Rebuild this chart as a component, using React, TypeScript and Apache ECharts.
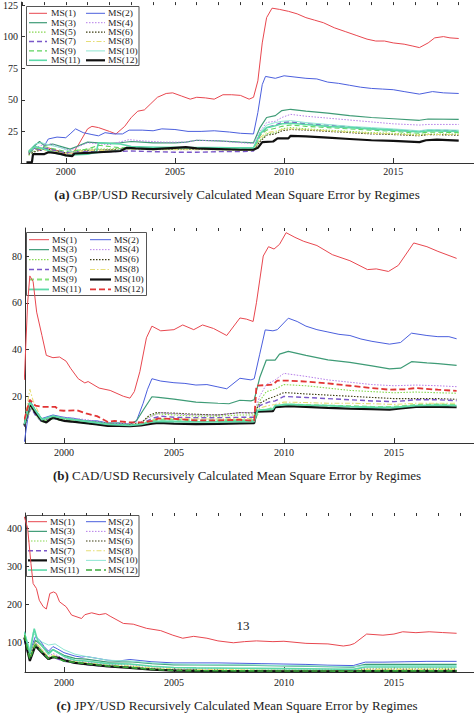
import React, { useEffect, useRef } from 'react';
import * as echarts from 'echarts';

// ---------- tick labels ----------
const YEAR_LABELS = [2000, 2005, 2010, 2015];
const MINOR_YEARS_A = [1998, 1999, 2000, 2001, 2002, 2003, 2004, 2005, 2006, 2007, 2008, 2009, 2010, 2011, 2012, 2013, 2014, 2015, 2016, 2017, 2018];
const MINOR_YEARS_BC = [1999, 2000, 2001, 2002, 2003, 2004, 2005, 2006, 2007, 2008, 2009, 2010, 2011, 2012, 2013, 2014, 2015, 2016, 2017, 2018];
const Y_TICKS_A = [25, 50, 75, 100, 125];
const Y_TICKS_B = [20, 40, 60, 80];
const Y_TICKS_C = [100, 200, 300, 400];

const NAMES = ['MS(1)', 'MS(2)', 'MS(3)', 'MS(4)', 'MS(5)', 'MS(6)', 'MS(7)', 'MS(8)', 'MS(9)', 'MS(10)', 'MS(11)', 'MS(12)'];

const TITLE_A = 'GBP/USD Recursively Calculated Mean Square Error by Regimes';
const TITLE_B = 'CAD/USD Recursively Calculated Mean Square Error by Regimes';
const TITLE_C = 'JPY/USD Recursively Calculated Mean Square Error by Regimes';
const PAGE_NO = '13';

// ---------- panel (a) GBP/USD : [year, MSE] ----------
const A1 = [[1998.3,9],[1998.5,12],[1998.8,10],[1999.2,12],[1999.6,10],[2000.0,7],[2000.3,7],[2000.6,15],[2001.0,27],[2001.2,29],[2001.5,28],[2002.0,25],[2002.3,23],[2002.7,29],[2003.0,36],[2003.3,41],[2003.6,42],[2003.9,47],[2004.2,52],[2004.6,55],[2004.9,55.5],[2005.3,53],[2005.7,50.5],[2006.0,52],[2006.4,51.5],[2006.8,50.5],[2007.2,54],[2007.6,54],[2008.0,53.5],[2008.4,50.5],[2008.6,52],[2008.8,65],[2009.0,95],[2009.2,115],[2009.45,122.5],[2009.8,121.5],[2010.2,120],[2010.6,118],[2011.0,115],[2011.4,113],[2011.8,111],[2012.3,107],[2012.8,104],[2013.3,101],[2013.8,98],[2014.2,96.5],[2014.6,96.5],[2015.0,95],[2015.5,94],[2015.9,92.5],[2016.2,91.3],[2016.6,95],[2016.9,99],[2017.3,100],[2017.6,99],[2018.0,98.5]];
const A2 = [[1998.3,8],[1998.6,12],[1998.9,10],[1999.2,19],[1999.6,20.5],[2000.0,20],[2000.2,23],[2000.45,27],[2000.8,24],[2001.2,22.5],[2001.5,21.5],[2001.8,24],[2002.2,23],[2002.6,23],[2002.9,26],[2003.5,26],[2004.0,25.5],[2004.4,27],[2005.0,26.5],[2005.6,25],[2006.2,25],[2006.8,25.5],[2007.5,24.5],[2008.0,23.5],[2008.6,23],[2008.8,40],[2009.0,62],[2009.15,68.5],[2009.6,67],[2010.0,69],[2010.5,68],[2011.0,67],[2011.5,66.5],[2012.0,64],[2012.5,63],[2013.0,61.5],[2013.5,60],[2014.0,59],[2014.5,58.5],[2015.0,58],[2015.5,56.5],[2016.2,54.5],[2016.8,56.5],[2017.3,55.5],[2018.0,55]];
const A3 = [[1998.3,9],[1998.6,14],[1998.8,17],[1999.0,14],[1999.4,15],[1999.8,13],[2000.2,11],[2000.5,13],[2001.0,16.5],[2001.5,16],[2002.0,15.5],[2002.5,16],[2003.0,17],[2003.5,16.5],[2004.0,16],[2005.0,16],[2005.5,16.5],[2006.0,18],[2007.0,17.5],[2008.0,16.5],[2008.6,16],[2008.9,28],[2009.2,36],[2009.6,37.5],[2009.9,41.5],[2010.3,42.5],[2011.0,41],[2012.0,39.5],[2013.0,37.5],[2014.0,36],[2015.0,35],[2016.2,33.8],[2016.6,34.8],[2018.0,34.5]];
const A4 = [[1998.3,7],[1998.6,12],[1998.9,14],[1999.3,15],[1999.8,12],[2000.2,10],[2000.6,13],[2001.0,16],[2002.0,14.5],[2002.9,18.5],[2003.5,17.5],[2004.5,16.5],[2005.5,16.5],[2006.0,18],[2007.0,17.5],[2008.0,16],[2008.6,15.5],[2008.9,25],[2009.2,32],[2009.6,33],[2009.9,36],[2010.3,38.5],[2011.0,37],[2012.0,35.5],[2013.0,34],[2014.0,32.5],[2015.0,31],[2016.2,30],[2016.6,30.5],[2018.0,30.5]];
const A5 = [[1998.3,6],[1998.6,10],[1998.9,12],[1999.3,10],[2000.0,8],[2000.5,10],[2001.0,11],[2002.0,11],[2003.0,12],[2004.0,11.5],[2005.0,11],[2006.0,11.5],[2007.0,11],[2008.0,10.5],[2008.6,10.5],[2008.9,18],[2009.2,23],[2009.6,24],[2009.9,27],[2010.3,28],[2011.0,27],[2012.0,26],[2013.0,25],[2014.0,24],[2015.0,23.5],[2016.2,22.5],[2016.6,23],[2018.0,23]];
const A6 = [[1998.3,7],[1998.6,9],[1999.0,11],[1999.5,10],[2000.0,8],[2000.5,9],[2001.0,10],[2002.0,10.5],[2003.0,11.5],[2004.0,11],[2005.0,11],[2006.0,11],[2007.0,11],[2008.0,10.5],[2008.6,10],[2008.9,17],[2009.2,22],[2009.6,23],[2009.9,25.5],[2010.3,26.5],[2011.0,26],[2012.0,25],[2013.0,24],[2014.0,23],[2015.0,22.5],[2016.2,21.5],[2016.6,22.5],[2018.0,22]];
const A7 = [[1998.3,8],[1998.6,11],[1999.0,12],[1999.5,10],[2000.0,8],[2000.5,9],[2001.0,9],[2002.0,9],[2003.0,9.5],[2004.0,9],[2005.0,8.5],[2006.0,8.5],[2007.0,9],[2008.0,9],[2008.6,9.5],[2008.9,22],[2009.2,28],[2009.6,30],[2009.9,32],[2010.3,32.5],[2011.0,31],[2012.0,30],[2013.0,28.5],[2014.0,27],[2015.0,26],[2016.2,25],[2016.6,26],[2018.0,25.5]];
const A8 = [[1998.3,10],[1998.6,13],[1999.0,10],[1999.5,9],[2000.0,7],[2000.5,9],[2001.0,10],[2002.0,10],[2003.0,11],[2004.0,10.5],[2005.0,10.5],[2006.0,10.5],[2007.0,10.5],[2008.0,10],[2008.6,10],[2008.9,20],[2009.2,24],[2009.6,25],[2009.9,26.5],[2010.3,27],[2011.0,26.5],[2012.0,25.5],[2013.0,24.5],[2014.0,23.5],[2015.0,23],[2016.2,22],[2016.6,22.5],[2018.0,22.5]];
const A9 = [[1998.3,8],[1998.6,11],[1999.0,13],[1999.5,11],[2000.0,9],[2000.5,10],[2001.0,11],[2001.5,14],[2002.0,13],[2002.5,12],[2003.0,12.5],[2004.0,12],[2005.0,12],[2006.0,12],[2007.0,11.5],[2008.0,11],[2008.6,11],[2008.9,22],[2009.2,26],[2009.6,27.5],[2009.9,29],[2010.3,30],[2011.0,29],[2012.0,28],[2013.0,27],[2014.0,26],[2015.0,25],[2016.2,23.5],[2016.6,24.5],[2018.0,24]];
const A10 = [[1998.3,10],[1998.6,15],[1998.9,16],[1999.3,14],[1999.8,12],[2000.2,9],[2000.6,8],[2001.0,7],[2001.5,8],[2002.0,9],[2003.0,12],[2004.0,12.5],[2005.0,12],[2006.0,12.5],[2007.0,12.5],[2008.0,12],[2008.6,12],[2008.9,24],[2009.2,30],[2009.6,32],[2009.9,33],[2010.3,33.5],[2011.0,32],[2012.0,30.5],[2013.0,29],[2014.0,28],[2015.0,27],[2016.2,25.5],[2016.6,26.5],[2018.0,26]];
const A11 = [[1998.3,9],[1998.6,13],[1999.0,11],[1999.5,8],[2000.0,6],[2000.5,6.5],[2001.0,7],[2001.4,9],[2001.5,16],[2002.0,15.5],[2002.5,15],[2003.0,13],[2004.0,12.5],[2005.0,12.5],[2006.0,12],[2007.0,12],[2008.0,12],[2008.6,12],[2008.9,23],[2009.2,28],[2009.6,29.5],[2009.9,31],[2010.3,31.5],[2011.0,30.5],[2012.0,29],[2013.0,28],[2014.0,27],[2015.0,26],[2016.2,24.5],[2016.6,25.5],[2018.0,25]];
const A12 = [[1998.2,0.5],[1998.45,0.5],[1998.5,7],[1999.0,7],[1999.2,8.5],[1999.5,8],[1999.8,7],[2000.0,6],[2000.3,5.5],[2000.4,7.5],[2001.0,8],[2001.5,8.5],[2002.0,9],[2002.5,9.5],[2002.8,12],[2003.2,11.5],[2004.0,11],[2005.0,12],[2005.5,12.5],[2006.0,11.5],[2007.0,11],[2008.0,10.5],[2008.6,10.5],[2008.8,12],[2009.0,16.5],[2009.5,17],[2009.7,19.5],[2010.2,19.5],[2010.3,21.5],[2011.0,21],[2012.0,20],[2013.0,19],[2014.0,18],[2015.0,17.5],[2016.2,16.5],[2016.5,18],[2017.0,18.5],[2018.0,17.7]];

// ---------- panel (b) CAD/USD ----------
const B1 = [[1998.2,27],[1998.35,60],[1998.45,71.5],[1998.6,69],[1998.76,56],[1999.0,46],[1999.2,37.5],[1999.5,36.5],[1999.8,36.8],[2000.1,35],[2000.3,32],[2000.65,27.5],[2000.95,25.7],[2001.1,26.3],[2001.6,23.5],[2002.1,22.5],[2002.7,20],[2003.0,19.2],[2003.2,22],[2003.45,30.5],[2003.75,45],[2004.0,50],[2004.4,48],[2005.0,48.5],[2005.4,50.5],[2005.9,48.5],[2006.3,50.5],[2006.8,49],[2007.4,46],[2008.0,53.5],[2008.3,53],[2008.6,52],[2008.75,60],[2009.06,80],[2009.3,84],[2009.55,83],[2009.8,85],[2010.1,90],[2010.5,88],[2010.9,86.3],[2011.5,84.5],[2012.2,80.6],[2013.0,78],[2013.8,74.2],[2014.2,74.5],[2014.75,73.4],[2015.2,76],[2015.9,85.6],[2016.5,84],[2017.0,82],[2017.85,79]];
const B2 = [[1998.2,0.5],[1998.35,10],[1998.5,17.5],[1998.7,14],[1999.0,10.5],[1999.5,12],[2000.0,11],[2000.5,10.5],[2001.0,9.5],[2001.5,9.5],[2002.0,8.5],[2002.5,8.5],[2003.0,8],[2003.3,9.5],[2003.6,17],[2003.8,23],[2004.0,27.5],[2004.4,26.5],[2005.0,25.8],[2005.5,25.5],[2006.0,24.8],[2006.5,25],[2007.0,24],[2007.4,23.2],[2008.0,27.7],[2008.5,27],[2008.65,27.5],[2008.9,38],[2009.15,48.4],[2009.5,48],[2009.7,48.5],[2010.2,53.4],[2010.6,52],[2011.0,50],[2011.5,48.5],[2012.0,47.5],[2012.5,46.5],[2013.0,46],[2013.5,44.5],[2014.0,43.5],[2014.8,42.3],[2015.3,43],[2015.8,47],[2016.5,46],[2017.0,45.5],[2017.5,45.5],[2017.85,44.6]];
const B3 = [[1998.2,8],[1998.5,17],[1998.7,14],[1999.0,10],[1999.5,11.5],[2000.0,10.5],[2000.5,10],[2001.0,9.5],[2001.5,9],[2002.0,8.5],[2002.5,8.5],[2003.0,8],[2003.3,9.5],[2003.6,14],[2004.0,19.8],[2004.3,19.5],[2005.0,18.8],[2006.0,17.5],[2007.0,17],[2007.5,16.8],[2008.0,18.3],[2008.5,18],[2008.65,18.5],[2008.9,28],[2009.2,35.5],[2009.6,35.5],[2009.8,38],[2010.2,39.2],[2011.0,37.5],[2012.0,35.6],[2013.0,34.5],[2014.0,33],[2014.8,31.7],[2015.3,32],[2015.8,34.8],[2016.5,34.3],[2017.0,34],[2017.85,33.2]];
const B4 = [[1998.2,8],[1998.5,16],[1998.7,13],[1999.0,10],[1999.5,11.5],[2000.0,11],[2000.5,10.5],[2001.0,10],[2002.0,8.5],[2003.0,8.3],[2003.5,9],[2004.0,11.5],[2004.4,13],[2005.0,12.5],[2006.0,12],[2007.0,12],[2008.0,13],[2008.65,13],[2008.9,20],[2009.2,25],[2009.6,27],[2010.0,29.8],[2011.0,28.5],[2012.0,27],[2013.0,26],[2014.0,25],[2015.0,24.5],[2016.0,24.8],[2017.0,24.5],[2017.85,24.1]];
const B5 = [[1998.2,7],[1998.5,15],[1998.7,12],[1999.0,9],[1999.5,11],[2000.0,10],[2001.0,9],[2002.0,8],[2003.0,7.8],[2003.5,8.5],[2003.8,11],[2004.2,12.5],[2005.0,12],[2006.0,11.5],[2007.0,11.5],[2008.0,12],[2008.65,12],[2008.9,18],[2009.2,22],[2009.6,23],[2010.0,25],[2011.0,24.5],[2012.0,23.5],[2013.0,22.5],[2014.0,22],[2015.0,21.5],[2016.0,21.8],[2017.0,21.5],[2017.85,21.3]];
const B6 = [[1998.2,7],[1998.5,16],[1998.7,13],[1999.0,9.5],[1999.5,11],[2000.0,10],[2001.0,9],[2002.0,8],[2003.0,7.8],[2003.5,8.5],[2003.9,12],[2004.2,13],[2005.0,12.8],[2006.0,12.3],[2007.0,12],[2008.0,13],[2008.65,12.8],[2008.9,17],[2009.3,19],[2009.6,20],[2010.0,21.6],[2011.0,21],[2012.0,20.5],[2013.0,20],[2014.0,19.5],[2015.0,19],[2016.0,19],[2017.0,19],[2017.85,18.7]];
const B7 = [[1998.2,7],[1998.5,15],[1998.7,12],[1999.0,9],[1999.5,10.5],[2000.0,9.5],[2001.0,8.5],[2002.0,7.8],[2003.0,7.5],[2003.5,8],[2004.0,10.5],[2004.4,11.5],[2005.0,11],[2006.0,10.8],[2007.0,10.8],[2008.0,11],[2008.65,11],[2008.9,16],[2009.3,17.5],[2009.6,18],[2010.0,19.9],[2011.0,19.5],[2012.0,19],[2013.0,18.5],[2014.0,18],[2015.0,17.7],[2016.0,18.5],[2017.0,18.5],[2017.85,18.1]];
const B8 = [[1998.2,9],[1998.45,23],[1998.6,18],[1999.0,10],[1999.5,11],[2000.0,10],[2001.0,9],[2002.0,8],[2003.0,7.5],[2003.5,8],[2004.0,10],[2004.4,10.5],[2005.0,10.5],[2006.0,10.3],[2007.0,10.3],[2008.0,10.5],[2008.65,10.5],[2008.9,15],[2009.3,16],[2009.6,16.5],[2010.0,17.5],[2011.0,17.3],[2012.0,17],[2013.0,17],[2014.0,16.8],[2015.0,16.5],[2016.0,17],[2017.0,17],[2017.85,17]];
const B9 = [[1998.2,8],[1998.5,16],[1998.7,13],[1999.0,9],[1999.5,10.5],[2000.0,9.5],[2001.0,8.5],[2002.0,7.5],[2003.0,7.3],[2003.5,8],[2004.0,9.5],[2004.4,10],[2005.0,10],[2006.0,9.7],[2007.0,9.7],[2008.0,9.8],[2008.65,9.8],[2008.9,14],[2009.3,14.5],[2009.6,15.5],[2010.0,16.5],[2011.0,16.3],[2012.0,16],[2013.0,15.8],[2014.0,15.5],[2015.0,15.5],[2016.0,16.3],[2017.0,16.5],[2017.85,16.3]];
const B10 = [[1998.2,7.5],[1998.45,17],[1998.7,13],[1999.0,9.5],[1999.2,8.8],[1999.5,11],[1999.8,10],[2000.0,9.5],[2000.5,9],[2001.0,8.5],[2001.5,8],[2002.0,7.3],[2002.5,7.3],[2003.0,7.2],[2003.5,7.5],[2004.0,8.3],[2004.3,8.6],[2005.0,8.3],[2006.0,8.1],[2007.0,8.2],[2008.0,8.4],[2008.65,8.5],[2008.75,13.4],[2009.5,13.6],[2009.6,15.3],[2010.2,15.8],[2011.0,15.5],[2012.0,15],[2013.0,14.7],[2014.0,14.5],[2014.8,14.3],[2015.3,14.8],[2016.0,15.4],[2017.0,15.5],[2017.85,15.3]];
const B11 = [[1998.2,8],[1998.45,17.5],[1998.7,14],[1999.0,10],[1999.5,11.5],[2000.0,10.5],[2001.0,9.3],[2002.0,8],[2003.0,7.5],[2003.5,8],[2004.0,9],[2004.4,9.3],[2005.0,9.2],[2006.0,9],[2007.0,9],[2008.0,9.2],[2008.65,9.2],[2008.8,14],[2009.5,14.5],[2009.6,16],[2010.2,16.5],[2011.0,16.2],[2012.0,16],[2013.0,15.6],[2014.0,15.3],[2015.0,15.2],[2016.0,16],[2017.0,16.2],[2017.85,16]];
const B12 = [[1998.2,10],[1998.45,18.5],[1998.7,16],[1999.0,15.5],[1999.6,15.5],[1999.8,14],[2000.0,13.8],[2000.6,14],[2001.0,12.7],[2001.5,11.5],[2002.0,9],[2002.3,9.5],[2003.0,8.8],[2003.6,8.8],[2004.0,9.5],[2004.3,10.5],[2005.0,10.3],[2006.0,9.7],[2007.0,9.7],[2008.0,9.9],[2008.65,9.5],[2008.75,24.5],[2009.5,25],[2009.7,26.7],[2010.2,26.7],[2011.0,26.3],[2012.0,25.5],[2013.0,24.5],[2014.0,23.5],[2014.8,22.8],[2015.5,23],[2016.0,23.5],[2017.0,22.8],[2017.85,22.3]];

// ---------- panel (c) JPY/USD ----------
const C1 = [[1998.2,430],[1998.35,400],[1998.5,307],[1998.6,254],[1998.75,241],[1998.88,210],[1999.06,193],[1999.2,187],[1999.36,228],[1999.53,232],[1999.65,228],[1999.8,206],[2000.1,193],[2000.35,171],[2000.8,162],[2000.95,172],[2001.26,177],[2001.6,172],[2001.9,175],[2002.1,168],[2002.7,149],[2003.15,147],[2003.76,136],[2004.4,130],[2004.95,118],[2005.4,110],[2005.9,115],[2006.5,110],[2007.0,103],[2007.7,98],[2008.2,101],[2008.75,103],[2009.5,101],[2010.0,102],[2011.0,96.5],[2012.0,95],[2012.7,89.5],[2013.0,92],[2013.2,96],[2013.76,121],[2014.5,118],[2015.0,121],[2015.4,127],[2016.0,124.6],[2016.6,127],[2017.2,125],[2017.85,123]];
const C2 = [[1998.2,123],[1998.45,75],[1998.7,114],[1998.9,105],[1999.1,88],[1999.3,76],[1999.5,88],[1999.7,82],[2000.0,72],[2000.5,63],[2000.8,60],[2001.0,62],[2001.5,57],[2002.0,52],[2002.5,50],[2003.0,54],[2003.5,51],[2004.0,48],[2005.0,45],[2006.0,45],[2007.0,45],[2008.0,44],[2009.0,43],[2010.0,42],[2011.0,41],[2012.0,39],[2013.15,38],[2013.7,47],[2014.5,47],[2015.5,48],[2016.5,49],[2017.85,49]];
const C3 = [[1998.2,110],[1998.45,65],[1998.7,105],[1999.0,90],[1999.3,72],[1999.5,80],[2000.0,65],[2000.5,57],[2001.0,55],[2002.0,47],[2003.0,48],[2004.0,43],[2005.0,40],[2006.0,40],[2008.0,39],[2010.0,37],[2012.0,35],[2013.15,34],[2013.7,41],[2015.0,41],[2017.85,41]];
const C4 = [[1998.2,115],[1998.45,60],[1998.7,100],[1999.0,80],[1999.3,62],[1999.5,70],[2000.0,56],[2001.0,47],[2002.0,41],[2003.0,40],[2004.0,35],[2005.0,32],[2006.0,31],[2008.0,30],[2010.0,29],[2012.0,28],[2013.15,27],[2013.7,31],[2017.85,32]];
const C5 = [[1998.2,120],[1998.45,58],[1998.7,98],[1999.0,78],[1999.3,58],[1999.5,65],[2000.0,52],[2001.0,44],[2002.0,38],[2003.0,36],[2004.0,31],[2005.0,28],[2006.0,27],[2008.0,26],[2010.0,25],[2012.0,25],[2013.15,24],[2013.7,29],[2017.85,30]];
const C6 = [[1998.2,110],[1998.45,55],[1998.7,95],[1999.0,75],[1999.3,55],[1999.5,62],[2000.0,50],[2001.0,42],[2002.0,36],[2003.0,34],[2004.0,29],[2005.0,27],[2006.0,26],[2008.0,25],[2010.0,24],[2012.0,24],[2013.15,23],[2013.7,26],[2017.85,27]];
const C7 = [[1998.2,105],[1998.45,52],[1998.7,92],[1999.0,72],[1999.3,54],[1999.5,60],[2000.0,49],[2001.0,41],[2002.0,35],[2003.0,33],[2004.0,28],[2005.0,26],[2006.0,25],[2008.0,24.5],[2010.0,24],[2012.0,23.5],[2013.15,23],[2013.7,25],[2017.85,25]];
const C8 = [[1998.2,118],[1998.45,60],[1998.7,100],[1999.0,80],[1999.3,60],[1999.5,66],[2000.0,53],[2001.0,45],[2002.0,39],[2003.0,37],[2004.0,32],[2005.0,29],[2006.0,28],[2008.0,27],[2010.0,26],[2012.0,26],[2013.15,25],[2013.7,28],[2017.85,28]];
const C9 = [[1998.2,112],[1998.45,50],[1998.7,90],[1999.0,72],[1999.3,55],[1999.5,60],[1999.8,58],[2000.0,52],[2000.5,45],[2001.0,42],[2002.0,36],[2003.0,32],[2004.0,27],[2005.0,24.5],[2006.0,24],[2008.0,23.5],[2010.0,23],[2012.0,23],[2013.15,22.5],[2013.7,23.5],[2017.85,23.5]];
const C10 = [[1998.2,128],[1998.45,80],[1998.6,125],[1998.8,110],[1999.0,100],[1999.3,92],[1999.6,95],[2000.0,80],[2000.5,68],[2001.0,62],[2002.0,52],[2003.0,50],[2004.0,45],[2005.0,42],[2006.0,41],[2008.0,40],[2010.0,38],[2012.0,36],[2013.15,35],[2013.7,38],[2017.85,38]];
const C11 = [[1998.2,125],[1998.45,70],[1998.65,135],[1998.8,105],[1999.0,90],[1999.3,68],[1999.5,80],[2000.0,62],[2000.5,52],[2001.0,50],[2002.0,43],[2003.0,42],[2004.0,36],[2005.0,33],[2006.0,32],[2008.0,31],[2010.0,30],[2012.0,29],[2013.15,28],[2013.7,34],[2017.85,34]];
const C12 = [[1998.2,118],[1998.45,55],[1998.7,93],[1999.0,74],[1999.3,56],[1999.5,62],[2000.0,50],[2001.0,43],[2002.0,37],[2003.0,33],[2004.0,28],[2005.0,25],[2006.0,24.5],[2008.0,24],[2010.0,23.5],[2012.0,23.5],[2013.15,23],[2013.7,24],[2017.85,24]];

const DATA_A = [A1, A2, A3, A4, A5, A6, A7, A8, A9, A10, A11, A12];
const DATA_B = [B1, B2, B3, B4, B5, B6, B7, B8, B9, B10, B11, B12];
const DATA_C = [C1, C2, C3, C4, C5, C6, C7, C8, C9, C10, C11, C12];

// ---------- styles ----------
const DOT = [1.5, 1.5];
const DASH = [5, 3];
const DASHDOT = [5, 2, 1.5, 2];
const BASE = [
  { c: '#e8474f', w: 1, t: 'solid' },
  { c: '#4b5fdd', w: 1, t: 'solid' },
  { c: '#3e9b76', w: 1.2, t: 'solid' },
  { c: '#b57de8', w: 1, t: DOT },
  { c: '#86d850', w: 1.1, t: DOT },
  { c: '#3d3d12', w: 1.1, t: DOT },
  { c: '#7a57c9', w: 1.4, t: DASH },
  { c: '#e6de78', w: 1.1, t: DASHDOT },
];
const STY_A = [...BASE,
  { c: '#5fd35f', w: 1.1, t: DASH },
  { c: '#8fe6d2', w: 1, t: 'solid' },
  { c: '#5cd9a8', w: 1.6, t: 'solid' },
  { c: '#111111', w: 2.2, t: 'solid' },
];
const STY_B = [...BASE,
  { c: '#86e27a', w: 1.8, t: DASH },
  { c: '#111111', w: 2.2, t: 'solid' },
  { c: '#5cd9a8', w: 1.8, t: 'solid' },
  { c: '#e23535', w: 1.8, t: [6, 3] },
];
const STY_C = [...BASE,
  { c: '#111111', w: 2.2, t: 'solid' },
  { c: '#8fe6d2', w: 1, t: 'solid' },
  { c: '#5cd9a8', w: 1.6, t: 'solid' },
  { c: '#3aa83a', w: 1.6, t: [6, 3] },
];

const SERIF = 'Liberation Serif';
const INK = '#222';

function buildSeries(data: number[][][], sty: any[], tag: string, axisIdx: number) {
  return data.map((d, i) => ({
    name: NAMES[i] + ' ' + tag,
    type: 'line',
    xAxisIndex: axisIdx * 2,
    yAxisIndex: axisIdx,
    data: d,
    symbol: 'none',
    showSymbol: false,
    silent: true,
    lineStyle: { color: sty[i].c, width: sty[i].w, type: sty[i].t },
    itemStyle: { color: sty[i].c },
  }));
}

// Legend drawn as graphic: two columns, six rows, framed box.
type LegendGeom = { box: number[]; rowCenter: number; rowH: number; cols: number[][] };
function buildLegend(sty: any[], g: LegendGeom) {
  const els: any[] = [];
  els.push({ type: 'rect', silent: true, shape: { x: g.box[0], y: g.box[1], width: g.box[2], height: g.box[3] }, style: { fill: 'none', stroke: '#555', lineWidth: 1 } });
  NAMES.forEach((name, i) => {
    const col = g.cols[i % 2];
    const cy = g.rowCenter + Math.floor(i / 2) * g.rowH;
    const s = sty[i];
    els.push({
      type: 'line', silent: true,
      shape: { x1: col[0], y1: cy, x2: col[1], y2: cy },
      style: { stroke: s.c, lineWidth: s.w, lineDash: s.t === 'solid' ? null : s.t },
    });
    els.push({
      type: 'text', silent: true, x: col[2], y: cy, scaleX: 1.12,
      style: { text: name, fontFamily: SERIF, fontSize: 8.5, fill: INK, align: 'left', verticalAlign: 'middle' },
    });
  });
  return els;
}

function xAxes(grid: number, min: number, max: number, minor: number[], margin: number) {
  return [
    {
      type: 'value', gridIndex: grid, min, max,
      splitLine: { show: false },
      axisLine: { lineStyle: { color: '#333', width: 1 } },
      axisTick: { inside: true, length: 5, customValues: YEAR_LABELS, lineStyle: { color: '#333' } },
      axisLabel: { customValues: YEAR_LABELS, formatter: (v: number) => String(v), fontFamily: SERIF, fontSize: 10, color: INK, margin },
    },
    {
      type: 'value', gridIndex: grid, min, max,
      splitLine: { show: false },
      axisLine: { show: false },
      axisTick: { inside: true, length: 3, customValues: minor, lineStyle: { color: '#333' } },
      axisLabel: { show: false },
    },
  ];
}

function yAxis(grid: number, min: number, max: number, ticks: number[]) {
  return {
    type: 'value', gridIndex: grid, min, max,
    splitLine: { show: false },
    axisLine: { show: true, lineStyle: { color: '#333', width: 1 } },
    axisTick: { show: true, inside: true, length: 4, customValues: ticks, lineStyle: { color: '#333' } },
    axisLabel: { customValues: ticks, formatter: (v: number) => String(v), fontFamily: SERIF, fontSize: 10, color: INK, margin: 3 },
  };
}

function titleOf(letter: string, text: string, top: number) {
  return {
    text: '{b|(' + letter + ')} ' + text,
    left: 'center',
    top,
    padding: 0,
    textStyle: {
      fontFamily: SERIF, fontSize: 13, fontWeight: 'normal', color: INK,
      rich: { b: { fontFamily: SERIF, fontSize: 13, fontWeight: 'bold', color: INK } },
    },
  };
}

export default function App() {
  const ref = useRef<HTMLDivElement>(null);
  useEffect(() => {
    if (!ref.current) return;
    const chart = echarts.init(ref.current, undefined, { renderer: 'svg' });
    const option: any = {
      animation: false,
      backgroundColor: '#ffffff',
      title: [
        titleOf('a', TITLE_A, 188),
        titleOf('b', TITLE_B, 469),
        titleOf('c', TITLE_C, 699),
      ],
      grid: [
        { left: 17, top: 0, width: 457, height: 163 },
        { left: 25, top: 228, width: 449, height: 215 },
        { left: 25, top: 513, width: 449, height: 159 },
      ],
      xAxis: [
        ...xAxes(0, 1997.95, 2018.7, MINOR_YEARS_A, 3),
        ...xAxes(1, 1998.23, 2018.64, MINOR_YEARS_BC, 4),
        ...xAxes(2, 1998.23, 2018.64, MINOR_YEARS_BC, 5),
      ],
      yAxis: [
        yAxis(0, 0, 127.3, Y_TICKS_A),
        yAxis(1, 0, 92, Y_TICKS_B),
        yAxis(2, 21, 440, Y_TICKS_C),
      ],
      graphic: [
        ...buildLegend(STY_A, { box: [26.5, 6.5, 112.5, 59], rowCenter: 13.3, rowH: 9.4, cols: [[29, 47, 51], [86, 105, 108]] }),
        ...buildLegend(STY_B, { box: [26.5, 232.5, 120, 63], rowCenter: 239.7, rowH: 9.95, cols: [[29, 49, 52], [90, 111, 114]] }),
        ...buildLegend(STY_C, { box: [26.5, 515.5, 112.5, 61], rowCenter: 521.7, rowH: 9.67, cols: [[28, 47, 50], [86, 106, 108]] }),
        { type: 'text', silent: true, x: 243, y: 625, style: { text: PAGE_NO, fontFamily: SERIF, fontSize: 13, fill: INK, align: 'center', verticalAlign: 'middle' } },
      ],
      series: [
        ...buildSeries(DATA_A, STY_A, 'a', 0),
        ...buildSeries(DATA_B, STY_B, 'b', 1),
        ...buildSeries(DATA_C, STY_C, 'c', 2),
      ],
    };
    chart.setOption(option);
    return () => chart.dispose();
  }, []);
  return <div ref={ref} style={{ position: 'absolute', left: 0, top: 0, width: 474, height: 713 }} />;
}
